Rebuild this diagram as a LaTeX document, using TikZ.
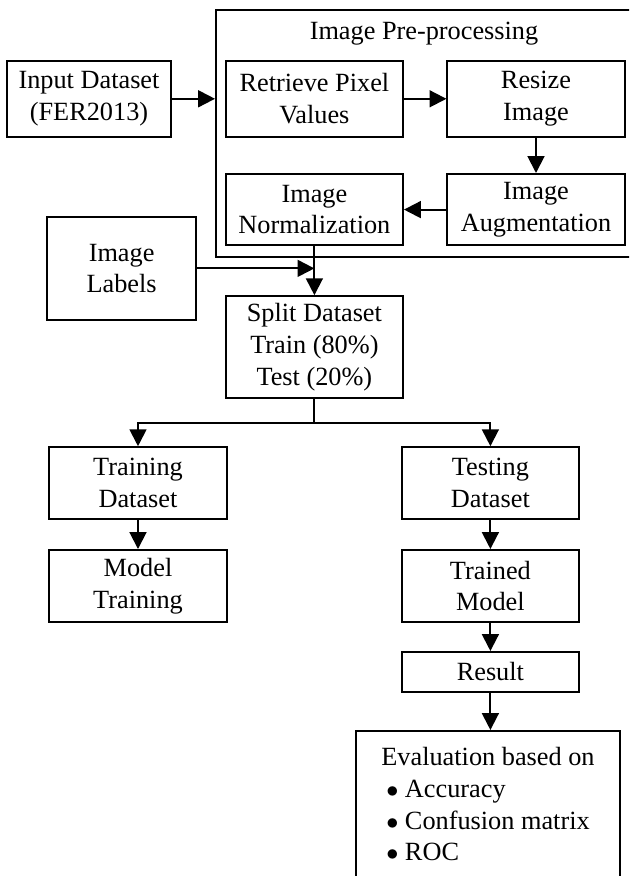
\documentclass[tikz,border=0pt]{standalone}
\usepackage{fontspec}
\setmainfont{Liberation Serif}
\usetikzlibrary{arrows.meta}

\begin{document}
\begin{tikzpicture}[
    fbox/.style={rectangle, draw, line width=1.4pt, align=center,
                 minimum width=4.43cm, minimum height=1.85cm, inner sep=2pt,
                 font=\fontsize{18.7}{22.5}\selectfont},
    arr/.style={-{Triangle[length=0.42cm, width=0.42cm]}, line width=1.4pt},
  ]
  \clip (0,0) rectangle (15.725,21.9);

  % --- Pre-processing frame ---
  \node[draw, line width=1.4pt, minimum width=11.1cm, minimum height=6.175cm]
    (prep) at (10.95, 18.56) {};
  \node[font=\fontsize{18.7}{22.5}\selectfont] (ptitle) at (10.6, 21.07) {Image Pre-processing};

  % --- top rows ---
  \node[fbox, minimum width=4.1cm, minimum height=1.9cm] (inp) at (2.225, 19.43) {Input Dataset\\(FER2013)};
  \node[fbox, minimum height=1.9cm] (ret) at (7.86, 19.43) {Retrieve Pixel\\Values};
  \node[fbox, minimum height=1.9cm] (rsz) at (13.4, 19.43) {Resize\\Image};
  \node[fbox, minimum height=1.78cm] (aug) at (13.4, 16.66) {Image\\Augmentation};
  \node[fbox, minimum height=1.78cm] (nrm) at (7.86, 16.66) {Image\\Normalization};

  \draw[arr] (inp) -- (inp -| prep.west);
  \draw[arr] (ret) -- (rsz);
  \draw[arr] (rsz) -- (aug);
  \draw[arr] (aug) -- (nrm);

  % --- labels and split ---
  \node[fbox, minimum width=3.72cm, minimum height=2.58cm] (lbl) at (3.04, 15.19) {Image\\Labels};
  \node[fbox, minimum height=2.55cm] (spl) at (7.86, 13.22) {Split Dataset\\Train (80\%)\\Test (20\%)};

  \draw[arr] (nrm) -- (spl);
  \draw[arr] (lbl.east) -- (lbl.east -| nrm.south);

  % --- train / test branches ---
  \node[fbox, minimum width=4.45cm, minimum height=1.8cm] (trn) at (3.45, 9.82) {Training\\Dataset};
  \node[fbox, minimum width=4.45cm, minimum height=1.8cm] (mdl) at (3.45, 7.25) {Model\\Training};
  \node[fbox, minimum height=1.8cm] (tst) at (12.26, 9.82) {Testing\\Dataset};
  \node[fbox, minimum height=1.8cm] (tmd) at (12.26, 7.25) {Trained\\Model};
  \node[fbox, minimum height=1.0cm] (res) at (12.26, 5.1) {Result};

  \draw[arr] (spl.south) -- ++(0,-0.6) -| (trn.north);
  \draw[arr] (spl.south) -- ++(0,-0.6) -| (tst.north);
  \draw[arr] (trn) -- (mdl);
  \draw[arr] (tst) -- (tmd);
  \draw[arr] (tmd) -- (res);

  % --- evaluation (runs off the bottom) ---
  \node[fbox, anchor=north, minimum width=6.6cm, minimum height=3.9cm]
    (evl) at (12.2, 3.65) {Evaluation based on\\
      \begin{tabular}[t]{@{}l@{}}
        $\bullet$ Accuracy\\
        $\bullet$ Confusion matrix\\
        $\bullet$ ROC
      \end{tabular}};

  \draw[arr] (res.south) -- (res.south |- evl.north);

\end{tikzpicture}
\end{document}
